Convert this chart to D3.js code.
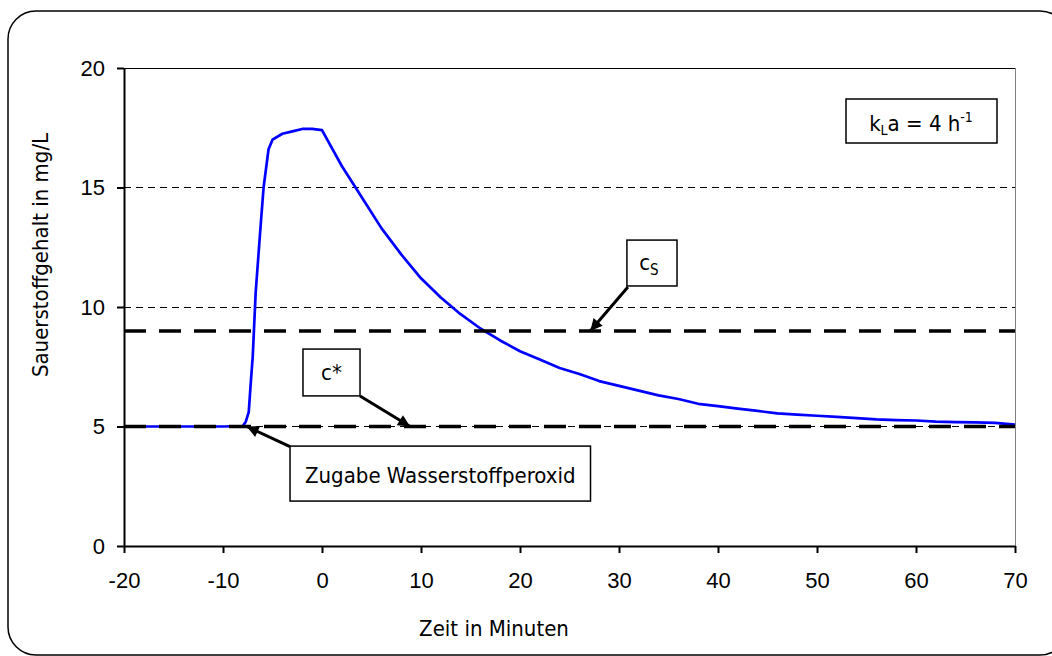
<!DOCTYPE html>
<html>
<head>
<meta charset="utf-8">
<script src="https://cdn.jsdelivr.net/npm/d3@7"></script>
<style>
  body { margin: 0; background: #fff; }
  svg { display: block; font-family: Tahoma, "DejaVu Sans Condensed", "DejaVu Sans", sans-serif; }
</style>
</head>
<body>
<svg width="1052" height="656"></svg>
<script>
// measured oxygen content (mg/L) over time (min)
var timeMin = [-18, -16, -14, -12, -10, -8, -7.7, -7.4, -7.2, -7, -6.7, -6.2, -5.9, -5.4, -5, -4, -3, -2, -1, 0,
               2, 4, 6, 8, 10, 12, 14, 16, 18, 20, 22, 24, 26, 28, 30, 32, 34, 36, 38, 40,
               42, 44, 46, 48, 50, 52, 54, 56, 58, 60, 62, 64, 66, 68, 70];
var o2Values = [5, 5, 5, 5, 5, 5.02, 5.2, 5.6, 6.8, 7.9, 10.6, 13.4, 15.0, 16.6, 17.0, 17.25, 17.35, 17.45, 17.45, 17.4,
                15.9, 14.6, 13.3, 12.2, 11.2, 10.4, 9.7, 9.1, 8.6, 8.15, 7.8, 7.45, 7.2, 6.9, 6.7, 6.5, 6.3, 6.15, 5.95, 5.85,
                5.75, 5.65, 5.55, 5.5, 5.45, 5.4, 5.35, 5.3, 5.27, 5.25, 5.2, 5.18, 5.17, 5.15, 5.08];
var xTicks = [-20, -10, 0, 10, 20, 30, 40, 50, 60, 70];
var yTicks = [0, 5, 10, 15, 20];
var gridValues = [5, 10, 15];
var cStar = 5, cSat = 9;

var svg = d3.select('svg'),
    margin = {left: 124, right: 37, top: 68, bottom: 110},
    width = +svg.attr('width'),
    height = +svg.attr('height');

var x = d3.scaleLinear().domain([-20, 70]).range([margin.left, width - margin.right]),
    y = d3.scaleLinear().domain([0, 20]).range([height - margin.bottom, margin.top]);

var fs = 22;

// outer rounded frame (runs off the right edge like the original)
svg.append('rect')
    .attr('x', 8).attr('y', 11)
    .attr('width', 1060).attr('height', 644)
    .attr('rx', 28).attr('ry', 28)
    .attr('fill', 'none')
    .attr('stroke', '#000')
    .attr('stroke-width', 1.5);

// plot border: top black, right grey
svg.append('line')
    .attr('x1', x(-20)).attr('x2', x(70))
    .attr('y1', y(20)).attr('y2', y(20))
    .attr('stroke', '#000').attr('stroke-width', 1)
    .attr('shape-rendering', 'crispEdges');
svg.append('line')
    .attr('x1', x(70)).attr('x2', x(70))
    .attr('y1', y(20)).attr('y2', y(0))
    .attr('stroke', '#808080').attr('stroke-width', 1)
    .attr('shape-rendering', 'crispEdges');

// gridlines
svg.append('g').selectAll('line')
    .data(gridValues)
    .enter().append('line')
    .attr('x1', x(-20)).attr('x2', x(70))
    .attr('y1', function(d) { return y(d); })
    .attr('y2', function(d) { return y(d); })
    .attr('stroke', '#000')
    .attr('stroke-width', 1)
    .attr('stroke-dasharray', '7,5')
    .attr('shape-rendering', 'crispEdges');

// data curve
var line = d3.line()
    .x(function(d) { return x(d[0]); })
    .y(function(d) { return y(d[1]); });

svg.append('path')
    .datum(timeMin.map(function(t, i) { return [t, o2Values[i]]; }))
    .attr('d', line)
    .attr('fill', 'none')
    .attr('stroke', '#0000ff')
    .attr('stroke-width', 2.7)
    .attr('stroke-linejoin', 'round');

// reference levels c* and cS
svg.append('g').selectAll('line')
    .data([cStar, cSat])
    .enter().append('line')
    .attr('x1', x(-20)).attr('x2', x(70))
    .attr('y1', function(d) { return y(d); })
    .attr('y2', function(d) { return y(d); })
    .attr('stroke', '#000')
    .attr('stroke-width', 3.5)
    .attr('stroke-dasharray', '22,13');

// axes
var fmt = function(d) { return String(d); };
var xAxis = svg.append('g')
    .attr('transform', 'translate(0,' + y(0) + ')')
    .call(d3.axisBottom(x).tickValues(xTicks).tickFormat(fmt).tickSize(7).tickSizeOuter(0).tickPadding(19));
var yAxis = svg.append('g')
    .attr('transform', 'translate(' + x(-20) + ',0)')
    .call(d3.axisLeft(y).tickValues(yTicks).tickFormat(fmt).tickSize(7).tickSizeOuter(0).tickPadding(12));

[xAxis, yAxis].forEach(function(a) {
  a.select('.domain').attr('stroke', '#000').attr('stroke-width', 2);
  a.selectAll('.tick line').attr('stroke', '#000').attr('stroke-width', 2);
  a.selectAll('.tick text')
    .attr('fill', '#000')
    .style('font-family', 'inherit')
    .style('font-size', fs + 'px');
});

// axis titles
svg.append('text')
    .attr('x', 494)
    .attr('y', 636)
    .attr('text-anchor', 'middle')
    .style('font-size', fs + 'px')
    .text('Zeit in Minuten');

svg.append('text')
    .attr('transform', 'translate(48,255) rotate(-90)')
    .attr('text-anchor', 'middle')
    .style('font-size', fs + 'px')
    .text('Sauerstoffgehalt in mg/L');

// arrowhead
svg.append('defs').append('marker')
    .attr('id', 'arrow')
    .attr('viewBox', '0 0 10 10')
    .attr('refX', 10).attr('refY', 5)
    .attr('markerWidth', 5).attr('markerHeight', 4)
    .attr('markerUnits', 'strokeWidth')
    .attr('orient', 'auto')
  .append('path')
    .attr('d', 'M0,0L10,5L0,10z')
    .attr('fill', '#000');

// annotation boxes in data coordinates
function box(x0, y0, x1, y1) {
  return svg.append('rect')
    .attr('x', x(x0)).attr('y', y(y0))
    .attr('width', x(x1) - x(x0)).attr('height', y(y1) - y(y0))
    .attr('fill', '#fff')
    .attr('stroke', '#000')
    .attr('stroke-width', 1.5);
}
function arrow(x0, y0, x1, y1) {
  svg.append('line')
    .attr('x1', x(x0)).attr('y1', y(y0))
    .attr('x2', x(x1)).attr('y2', y(y1))
    .attr('stroke', '#000')
    .attr('stroke-width', 3)
    .attr('marker-end', 'url(#arrow)');
}

// cS
arrow(30.9, 10.84, 27.1, 9.0);
box(30.8, 12.8, 35.86, 10.88);
var cs = svg.append('text')
    .attr('x', x(33.33) - 3).attr('y', (y(12.8) + y(10.88)) / 2 + 7)
    .attr('text-anchor', 'middle')
    .style('font-size', fs + 'px');
cs.append('tspan').text('c');
cs.append('tspan').attr('dy', 5).style('font-size', '15px').text('S');

// c*
arrow(3.84, 6.28, 8.9, 5.0);
box(-1.92, 8.24, 3.84, 6.28);
svg.append('text')
    .attr('x', x(0.96)).attr('y', (y(8.24) + y(6.28)) / 2 + 8)
    .attr('text-anchor', 'middle')
    .style('font-size', fs + 'px')
    .text('c*');

// Zugabe Wasserstoffperoxid
arrow(-3.23, 4.16, -7.6, 5.0);
var zb = box(-3.23, 4.18, 0, 1.88);
var zt = svg.append('text')
    .attr('x', x(-3.23) + 15).attr('y', (y(4.18) + y(1.88)) / 2 + 9)
    .style('font-size', fs + 'px')
    .text('Zugabe Wasserstoffperoxid');
zb.attr('width', zt.node().getComputedTextLength() + 30);

// kLa label
svg.append('rect')
    .attr('x', 846).attr('y', 99)
    .attr('width', 151).attr('height', 44)
    .attr('fill', '#fff')
    .attr('stroke', '#000')
    .attr('stroke-width', 1.5);
var kl = svg.append('text')
    .attr('x', 921).attr('y', 131)
    .attr('text-anchor', 'middle')
    .style('font-size', fs + 'px');
kl.append('tspan').text('k');
kl.append('tspan').attr('dy', 4).style('font-size', '14px').text('L');
kl.append('tspan').attr('dy', -4).text('a = 4 h');
kl.append('tspan').attr('dy', -9).style('font-size', '14px').text('-1');
</script>
</body>
</html>
